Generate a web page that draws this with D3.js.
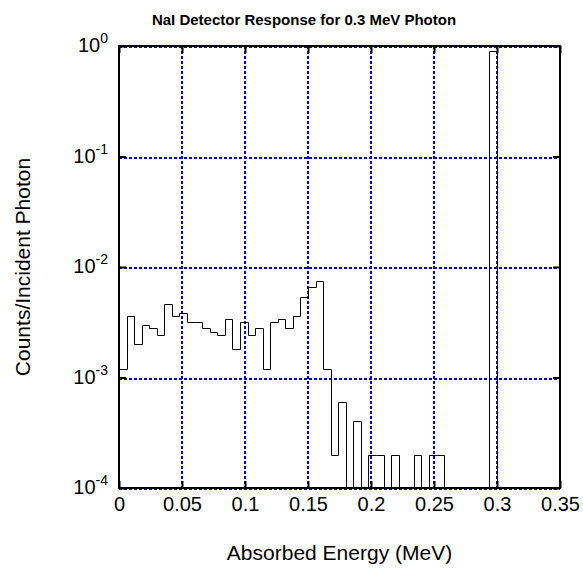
<!DOCTYPE html>
<html>
<head>
<meta charset="utf-8">
<script src="https://cdn.jsdelivr.net/npm/d3@7"></script>
<style>
  body { margin: 0; background: #fff; }
  svg text { font-family: "Liberation Sans", Arial, sans-serif; fill: #000; }
</style>
</head>
<body>
<div id="chart"></div>
<script>
// ----------------------------------------------------------
// Data: 50 bins of 0.006 MeV
// ----------------------------------------------------------
const BIN_WIDTH = 0.006;
const counts = [
  1.2e-3, 3.6e-3, 2.0e-3, 3.0e-3, 2.8e-3, 2.4e-3, 4.6e-3, 3.6e-3, 3.8e-3, 3.2e-3,
  3.2e-3, 2.8e-3, 2.6e-3, 2.4e-3, 3.4e-3, 1.8e-3, 3.2e-3, 2.4e-3, 2.8e-3, 1.2e-3,
  3.2e-3, 3.4e-3, 2.8e-3, 3.6e-3, 5.4e-3, 6.6e-3, 7.4e-3, 1.2e-3, 2.0e-4, 6.0e-4,
  0, 4.0e-4, 0, 2.0e-4, 2.0e-4, 0, 2.0e-4, 0, 0, 2.0e-4,
  0, 2.0e-4, 2.0e-4, 0, 0, 0, 0, 0, 0, 0.895
];
const xTicks = [0, 0.05, 0.1, 0.15, 0.2, 0.25, 0.3, 0.35];
const xTickLabels = ['0', '0.05', '0.1', '0.15', '0.2', '0.25', '0.3', '0.35'];
const yTicks = [1e-4, 1e-3, 1e-2, 1e-1, 1];
const yTickExponents = ['-4', '-3', '-2', '-1', '0'];

const TITLE = 'NaI Detector Response for 0.3 MeV Photon';
const X_LABEL = 'Absorbed Energy (MeV)';
const Y_LABEL = 'Counts/Incident Photon';

const GRID_COLOR = '#0000cc';

// ----------------------------------------------------------
// Layout
// ----------------------------------------------------------
const width = 583;
const height = 571;
const margin = { top: 46, right: 23, bottom: 83, left: 119 };

const svg = d3.select('#chart')
  .append('svg')
  .attr('width', width)
  .attr('height', height);

const x = d3.scaleLinear()
  .domain([0, 0.35])
  .range([margin.left, width - margin.right]);

const y = d3.scaleLog()
  .domain([1e-4, 1])
  .range([height - margin.bottom, margin.top]);

const floor = y.domain()[0];

// ----------------------------------------------------------
// Grid lines (blue dotted)
// ----------------------------------------------------------
svg.append('g')
  .selectAll('line')
  .data(xTicks)
  .enter()
  .append('line')
  .attr('x1', (d) => Math.round(x(d)))
  .attr('x2', (d) => Math.round(x(d)))
  .attr('y1', y(1))
  .attr('y2', y(floor))
  .attr('stroke', GRID_COLOR)
  .attr('stroke-width', 2)
  .attr('stroke-dasharray', '3,2');

svg.append('g')
  .selectAll('line')
  .data(yTicks)
  .enter()
  .append('line')
  .attr('x1', x(0))
  .attr('x2', x(0.35))
  .attr('y1', (d) => Math.round(y(d)) + 1)
  .attr('y2', (d) => Math.round(y(d)) + 1)
  .attr('stroke', GRID_COLOR)
  .attr('stroke-width', 2)
  .attr('stroke-dasharray', '3,2');

// ----------------------------------------------------------
// Histogram (stairs)
// ----------------------------------------------------------
const pts = [[0, floor]];
counts.forEach((c, i) => {
  const v = Math.max(c, floor);
  pts.push([i * BIN_WIDTH, v]);
  pts.push([(i + 1) * BIN_WIDTH, v]);
});
pts.push([counts.length * BIN_WIDTH, floor]);

const line = d3.line()
  .x((d) => Math.round(x(d[0])) + 0.5)
  .y((d) => Math.round(y(d[1])) + 0.5);

svg.append('path')
  .datum(pts)
  .attr('d', line)
  .attr('fill', 'none')
  .attr('stroke', '#000')
  .attr('stroke-width', 1);

// ----------------------------------------------------------
// Axes: inward ticks on all four sides
// ----------------------------------------------------------
const xAxis = d3.axisBottom(x)
  .tickValues(xTicks)
  .tickSize(-7)
  .tickPadding(9)
  .tickFormat((d, i) => xTickLabels[i]);

svg.append('g')
  .attr('transform', 'translate(0,' + y(floor) + ')')
  .call(xAxis)
  .call((g) => g.select('.domain').remove())
  .call((g) => g.selectAll('line').attr('stroke-width', 2))
  .call((g) => g.selectAll('text').attr('font-size', 20).attr('fill', '#000'));

svg.append('g')
  .attr('transform', 'translate(0,' + y(1) + ')')
  .call(d3.axisTop(x).tickValues(xTicks).tickSize(-7).tickFormat(''))
  .call((g) => g.select('.domain').remove())
  .call((g) => g.selectAll('line').attr('stroke-width', 2));

svg.append('g')
  .attr('transform', 'translate(' + x(0) + ',0)')
  .call(d3.axisLeft(y).tickValues(yTicks).tickSize(-7).tickFormat(''))
  .call((g) => g.select('.domain').remove())
  .call((g) => g.selectAll('line').attr('stroke-width', 2));

svg.append('g')
  .attr('transform', 'translate(' + x(0.35) + ',0)')
  .call(d3.axisRight(y).tickValues(yTicks).tickSize(-7).tickFormat(''))
  .call((g) => g.select('.domain').remove())
  .call((g) => g.selectAll('line').attr('stroke-width', 2));

// y tick labels as 10 with superscript exponent
const yLabels = svg.append('g')
  .selectAll('text')
  .data(yTicks)
  .enter()
  .append('text')
  .attr('x', x(0) - 11)
  .attr('y', (d) => y(d) + 6)
  .attr('text-anchor', 'end')
  .attr('font-size', 20);

yLabels.append('tspan').text('10');
yLabels.append('tspan')
  .attr('font-size', 14)
  .attr('dy', -9)
  .text((d, i) => yTickExponents[i]);

// Box
svg.append('rect')
  .attr('x', x(0))
  .attr('y', y(1))
  .attr('width', x(0.35) - x(0))
  .attr('height', y(floor) - y(1))
  .attr('fill', 'none')
  .attr('stroke', '#000')
  .attr('stroke-width', 2);

// ----------------------------------------------------------
// Titles
// ----------------------------------------------------------
svg.append('text')
  .attr('x', 304)
  .attr('y', 25)
  .attr('text-anchor', 'middle')
  .attr('font-size', 15)
  .attr('font-weight', 'bold')
  .text(TITLE);

svg.append('text')
  .attr('x', (x(0) + x(0.35)) / 2)
  .attr('y', 560)
  .attr('text-anchor', 'middle')
  .attr('font-size', 21)
  .text(X_LABEL);

svg.append('text')
  .attr('transform', 'translate(30,' + (y(1) + y(floor)) / 2 + ') rotate(-90)')
  .attr('text-anchor', 'middle')
  .attr('font-size', 21)
  .text(Y_LABEL);
</script>
</body>
</html>
